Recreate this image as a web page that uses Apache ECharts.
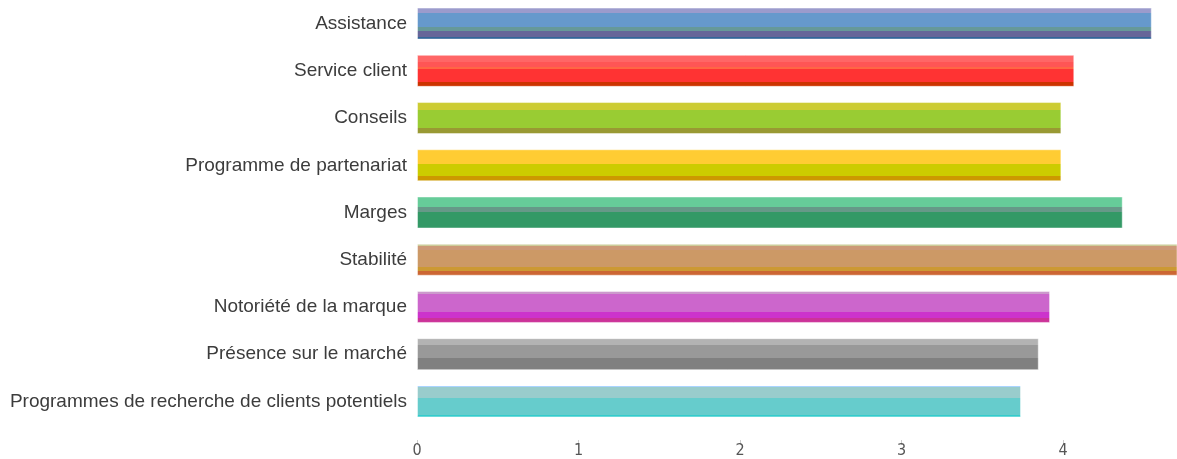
<!DOCTYPE html>
<html>
<head>
<meta charset="utf-8">
<script src="https://cdn.jsdelivr.net/npm/echarts@6/dist/echarts.min.js"></script>
<style>
  html, body { margin: 0; padding: 0; background: #fff; }
  #chart { width: 1177px; height: 459px; }
</style>
</head>
<body>
<div id="chart"></div>
<script>
// catégories (de haut en bas)
const categories = [
  'Assistance',
  'Service client',
  'Conseils',
  'Programme de partenariat',
  'Marges',
  'Stabilité',
  'Notoriété de la marque',
  'Présence sur le marché',
  'Programmes de recherche de clients potentiels'
];

// valeurs
const scores = [4.55, 4.07, 3.99, 3.99, 4.37, 4.71, 3.92, 3.85, 3.74];

const xTicks = [0, 1, 2, 3, 4];

// bandes de couleur de chaque barre : [début, fin, couleur]
const stripes = [
  [[0, 0.18, '#9b9bcc'], [0.18, 0.61, '#6699cc'], [0.61, 0.74, '#669999'], [0.74, 0.93, '#666699'], [0.93, 1, '#336699']],
  [[0, 0.23, '#ff6666'], [0.23, 0.38, '#ff5555'], [0.38, 0.44, '#ff6644'], [0.44, 0.86, '#ff3333'], [0.86, 1, '#cc3300']],
  [[0, 0.25, '#cccc33'], [0.25, 0.82, '#99cc33'], [0.82, 1, '#999933']],
  [[0, 0.46, '#ffcc33'], [0.46, 0.82, '#cccc00'], [0.82, 1, '#cc9900']],
  [[0, 0.34, '#66cc99'], [0.34, 0.49, '#669988'], [0.49, 1, '#339966']],
  [[0, 0.08, '#cccc99'], [0.08, 0.19, '#cc9977'], [0.19, 0.72, '#cc9966'], [0.72, 0.86, '#cc9933'], [0.86, 1, '#cc6633']],
  [[0, 0.1, '#cc99cc'], [0.1, 0.66, '#cc66cc'], [0.66, 0.85, '#cc33cc'], [0.85, 1, '#cc3399']],
  [[0, 0.21, '#b3b3b3'], [0.21, 0.63, '#999999'], [0.63, 1, '#808080']],
  [[0, 0.06, '#99ccff'], [0.06, 0.38, '#99cccc'], [0.38, 0.94, '#66cccc'], [0.94, 1, '#33cccc']]
];

function stripeGradient(bands) {
  const stops = [];
  bands.forEach(([a, b, c]) => {
    stops.push({ offset: a, color: c });
    stops.push({ offset: b, color: c });
  });
  return new echarts.graphic.LinearGradient(0, 0, 0, 1, stops);
}

const chart = echarts.init(document.getElementById('chart'));

chart.setOption({
  animation: false,
  grid: { left: 417, right: 0, top: 0, height: 425 },
  xAxis: {
    type: 'value',
    min: 0,
    max: 4.706,
    interval: 1,
    offset: 15,
    axisLine: { show: false },
    axisTick: { show: true, length: 5, lineStyle: { color: '#cccccc' } },
    splitLine: { show: false },
    axisLabel: {
      color: '#555',
      fontFamily: 'Liberation Sans Narrow, DejaVu Sans Condensed',
      fontSize: 16,
      margin: 3,
      showMaxLabel: false,
      formatter: v => (xTicks.includes(v) ? String(v) : '')
    }
  },
  yAxis: {
    type: 'category',
    inverse: true,
    data: categories,
    axisLine: { show: false },
    axisTick: { show: false },
    axisLabel: {
      color: '#3c3c3c',
      fontFamily: 'Liberation Sans, Arial',
      fontSize: 19,
      margin: 10,
      padding: [4, 0, 0, 0]
    }
  },
  series: [{
    type: 'bar',
    barWidth: 32,
    data: scores.map((v, i) => ({
      value: v,
      itemStyle: {
        color: stripeGradient(stripes[i]),
        borderColor: 'rgba(255,255,255,0.45)',
        borderWidth: 1
      }
    }))
  }]
});
</script>
</body>
</html>
